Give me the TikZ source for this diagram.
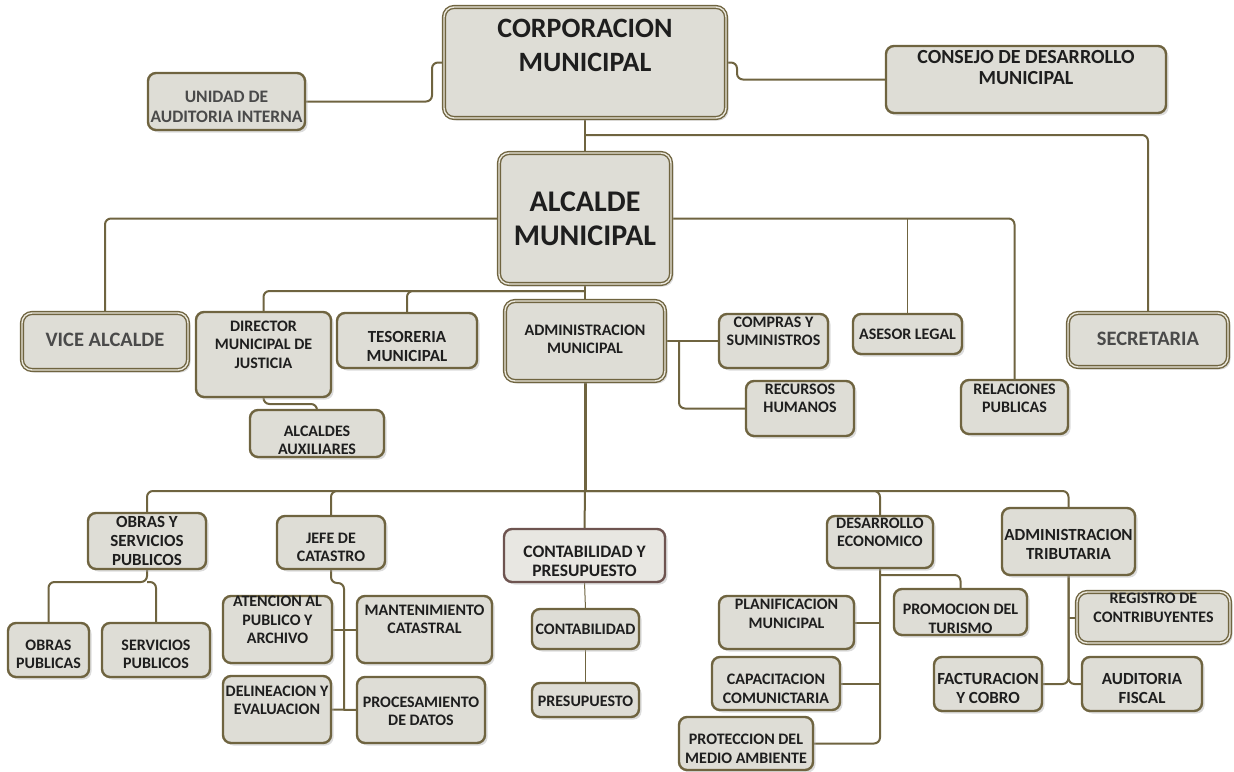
\documentclass[tikz,border=0pt]{standalone}
\usepackage{fontspec}
\setmainfont{Carlito}
\usetikzlibrary{calc,shadows}
\definecolor{bdr}{HTML}{6F6440}
\definecolor{boxfill}{HTML}{DEDDD6}
\definecolor{gapc}{HTML}{EAE7DC}
\definecolor{txtc}{HTML}{1E1E1E}
\definecolor{greytxt}{HTML}{4A4A4A}
\definecolor{cpbdr}{HTML}{6E5450}
\pgfdeclarelayer{bg}
\pgfsetlayers{bg,main}
\tikzset{
  shad/.style={drop shadow={shadow xshift=2.5pt,shadow yshift=-2.5pt,fill=black!30,opacity=0.45}},
  bx/.style={shape=rectangle,draw=bdr,fill=boxfill,line width=2.4pt,rounded corners=8pt,inner sep=0pt,outer sep=0pt,shad},
  bxd/.style={bx,line width=1.4pt,double=gapc,double distance=1.4pt,rounded corners=10pt},
  bxc/.style={bx,draw=cpbdr,fill=boxfill!70!white},
  tx/.style={inner sep=0pt,align=center,text=txtc,font=\bfseries\fontsize{16}{18.5}\selectfont},
  tx17/.style={tx,font=\bfseries\fontsize{17}{19}\selectfont},
  txcp/.style={tx,font=\bfseries\fontsize{17.5}{19}\selectfont},
  txbig/.style={tx,font=\bfseries\fontsize{30}{34}\selectfont},
  txcorp/.style={tx,font=\bfseries\fontsize{28}{34}\selectfont},
  txcons/.style={tx,font=\bfseries\fontsize{20}{21.5}\selectfont},
  txunid/.style={tx,text=greytxt,font=\bfseries\fontsize{17.5}{20}\selectfont},
  txgrey/.style={tx,text=greytxt,font=\bfseries\fontsize{20.5}{24}\selectfont},
  conn/.style={draw=bdr,line width=2pt,rounded corners=6pt},
  thinconn/.style={draw=bdr,line width=1pt},
  trunk/.style={draw=bdr,line width=3pt}
}
% style, text style, name, x1, y1, x2, y2, text-y, text
\newcommand\obox[9]{%
  \pgfmathsetmacro\bw{#6-#4}%
  \pgfmathsetmacro\bh{#7-#5}%
  \pgfmathsetmacro\bcx{(#4+#6)/2}%
  \pgfmathsetmacro\bcy{(#5+#7)/2}%
  \node[#1,minimum width=\bw pt,minimum height=\bh pt] (#3) at (\bcx,\bcy) {};
  \node[#2] (#3-t) at (\bcx,#8) {#9};
}
\begin{document}
\begin{tikzpicture}[x=1pt,y=-1pt]
\useasboundingbox (0,0) rectangle (1234,771);

% top level
\obox{bxd}{txcorp}{corp}{444}{7}{726}{118}{45}{CORPORACION\\MUNICIPAL}
\obox{bx}{txunid}{unidad}{148}{73}{305}{130}{107}{UNIDAD DE\\AUDITORIA INTERNA}
\obox{bx}{txcons}{consejo}{886}{46}{1166}{113}{67.5}{CONSEJO DE DESARROLLO\\MUNICIPAL}
\obox{bxd}{txbig}{alcalde}{499}{153}{671}{284}{219}{ALCALDE\\MUNICIPAL}

% second level
\obox{bxd}{txgrey}{vice}{22}{313}{188}{370}{340}{VICE ALCALDE}
\obox{bx}{tx}{director}{196}{312}{331}{397}{344.5}{DIRECTOR\\MUNICIPAL DE\\JUSTICIA}
\obox{bx}{tx17}{teso}{337}{313}{477}{368}{346.5}{TESORERIA\\MUNICIPAL}
\obox{bxd}{tx}{admin}{505}{301}{665}{381}{339.5}{ADMINISTRACION\\MUNICIPAL}
\obox{bx}{tx}{compras}{719}{314}{828}{368}{331.5}{COMPRAS Y\\SUMINISTROS}
\obox{bx}{tx}{recursos}{746}{381}{854}{436}{398.5}{RECURSOS\\HUMANOS}
\obox{bx}{tx}{asesor}{853}{314}{962}{354}{334}{ASESOR LEGAL}
\obox{bxd}{txgrey}{secre}{1068}{313}{1228}{367}{339}{SECRETARIA}
\obox{bx}{tx}{rel}{961}{380}{1068}{434}{398.5}{RELACIONES\\PUBLICAS}
\obox{bx}{tx}{alcaldes}{250}{410}{384}{457}{440.5}{ALCALDES\\AUXILIARES}

% third level
\obox{bx}{tx17}{osp}{88}{513}{206}{569}{540.5}{OBRAS Y\\SERVICIOS\\PUBLICOS}
\obox{bx}{tx}{jefe}{277}{516}{385}{569}{547.5}{JEFE DE\\CATASTRO}
\obox{bxc}{txcp}{contabp}{504}{529}{665}{582}{561}{CONTABILIDAD Y\\PRESUPUESTO}
\obox{bx}{tx}{desarrollo}{827}{516}{933}{568}{532.5}{DESARROLLO\\ECONOMICO}
\obox{bx}{tx17}{tributaria}{1002}{508}{1135}{575}{544}{ADMINISTRACION\\TRIBUTARIA}

% fourth level
\obox{bx}{tx}{obrasp}{8}{623}{89}{677}{654.5}{OBRAS\\PUBLICAS}
\obox{bx}{tx}{servp}{102}{623}{210}{677}{654.5}{SERVICIOS\\PUBLICOS}
\obox{bx}{tx}{atencion}{223}{596}{332}{663}{620}{ATENCION AL\\PUBLICO Y\\ARCHIVO}
\obox{bx}{tx}{mant}{357}{596}{492}{663}{619.5}{MANTENIMIENTO\\CATASTRAL}
\obox{bx}{tx}{delin}{223}{676}{331}{743}{700.5}{DELINEACION Y\\EVALUACION}
\obox{bx}{tx}{proc}{357}{677}{485}{743}{711.5}{PROCESAMIENTO\\DE DATOS}
\obox{bx}{tx}{contab}{532}{609}{639}{649}{629}{CONTABILIDAD}
\obox{bx}{tx}{presup}{532}{683}{639}{717}{701}{PRESUPUESTO}
\obox{bx}{tx}{plan}{719}{596}{854}{649}{614}{PLANIFICACION\\MUNICIPAL}
\obox{bx}{tx}{capac}{712}{657}{840}{710}{689}{CAPACITACION\\COMUNICTARIA}
\obox{bx}{tx}{prot}{679}{717}{813}{770}{749}{PROTECCION DEL\\MEDIO AMBIENTE}
\obox{bx}{tx}{promo}{894}{589}{1027}{635}{619}{PROMOCION DEL\\TURISMO}
\obox{bxd}{tx}{registro}{1077}{592}{1230}{643}{608}{REGISTRO DE\\CONTRIBUYENTES}
\obox{bx}{tx17}{fact}{934}{657}{1042}{711}{688.5}{FACTURACION\\Y COBRO}
\obox{bx}{tx17}{audit}{1082}{657}{1202}{711}{688.5}{AUDITORIA\\FISCAL}

\coordinate (hub) at ($(admin.south)+(0,110)$);

\begin{pgfonlayer}{bg}
% corporacion
\draw[conn] (corp.west) -- ++(-12,0) |- (unidad.east);
\draw[conn] (corp.east) -- ++(11,0) |- (consejo.west);
\draw[conn] (corp.south) -- (alcalde.north);
\draw[conn] ($(corp.south)+(0,17)$) -| (secre.north);
% alcalde
\draw[conn] (alcalde.west) -| (vice.north);
\draw[conn] (alcalde.east) -| (rel.north);
\draw[thinconn] (alcalde.east -| asesor.north) -- (asesor.north);
\draw[conn] (alcalde.south) -- (admin.north);
\draw[conn] ($(alcalde.south)+(0,7)$) -| (director.north);
\draw[conn] ($(alcalde.south)+(0,7)$) -| (teso.north);
\draw[conn] (director.south) -- ++(0,7) -| (alcaldes.north);
% administracion
\draw[conn] (admin.east) -- (compras.west);
\draw[conn] ($(admin.east)+(14,0)$) |- (recursos.west);
\draw[trunk] (admin.south) -- (hub);
\draw[conn] (hub) -- (contabp.north);
\draw[conn] (hub) -| (osp.north);
\draw[conn] (hub) -| (jefe.north);
\draw[conn] (hub) -| (desarrollo.north);
\draw[conn] (hub) -| (tributaria.north);
% obras
\draw[conn] (osp.south) -- ++(0,13) -| (obrasp.north);
\draw[conn] (osp.south) ++(0,13) -| (servp.north);
% catastro
\draw[conn] (jefe.south) -- ++(0,14) -| ($(delin.east)!.5!(proc.west)$);
\draw[conn] (atencion.east) -- (mant.west);
\draw[conn] (delin.east) -- (proc.west);
% contabilidad
\draw[thinconn] (contabp.south) -- (contab.north);
\draw[thinconn] (contab.south) -- (presup.north);
% desarrollo
\draw[conn] (desarrollo.south) |- (prot.east);
\draw[conn] ($(desarrollo.south)+(0,7)$) -| (promo.north);
\draw[conn] (plan.east) -- (plan.east -| desarrollo.south);
\draw[conn] (capac.east) -- (capac.east -| desarrollo.south);
% tributaria
\draw[conn] (tributaria.south) |- (fact.east);
\draw[conn] (tributaria.south) |- (audit.west);
\draw[conn] (registro.west -| tributaria.south) -- (registro.west);
\end{pgfonlayer}
\end{tikzpicture}
\end{document}
